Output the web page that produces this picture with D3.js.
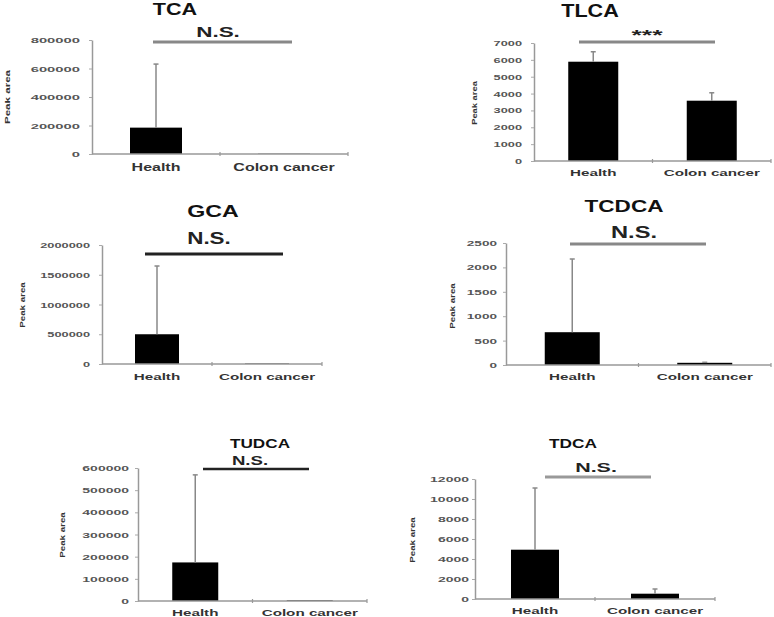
<!DOCTYPE html>
<html><head><meta charset="utf-8">
<script src="https://cdn.jsdelivr.net/npm/d3@7"></script>
<style>html,body{margin:0;padding:0;background:#fff}svg{display:block}</style>
</head><body>
<svg id="chart" width="774" height="617"></svg>
<script>
// ---- data ----
const titles = ["TCA", "TLCA", "GCA", "TCDCA", "TUDCA", "TDCA"];
const categories = ["Health", "Colon cancer"];
const healthMean = [185000, 5890, 500000, 672, 174000, 4930];
const healthErr = [446000, 590, 1147000, 1500, 395000, 6170];
const cancerMean = [2000, 3577, 8000, 45, 3000, 530];
const cancerErr = [0, 470, 0, 10, 0, 470];
const yMax = [800000, 7000, 2000000, 2500, 600000, 12000];
const yStep = [200000, 1000, 500000, 500, 100000, 2000];
const sigLabels = ["N.S.", "***", "N.S.", "N.S.", "N.S.", "N.S."];
const yLabel = "Peak area";

// ---- layout (positions / styles) ----
const layout = [
  {x0:92, x1:348, yB:154, yT:40, bw:52, gap:12, tickS:1.85,
   title:{x:175,y:10,size:16,s:1.35}, sig:{x0:153,x1:292,y:42,color:"#888",w:3},
   sigT:{x:218,y:32,size:15,s:1.5}, cat:{y:168,size:10,s:1.6}, yl:{x:7,y:97,size:8,s:1.45}},
  {x0:534, x1:771, yB:161, yT:43, bw:50, gap:12, tickS:1.6,
   title:{x:590,y:11,size:18,s:1.2}, sig:{x0:579,x1:715,y:42,color:"#888",w:3},
   sigT:{x:647,y:40,size:14,s:1.9,star:true}, cat:{y:173,size:9.5,s:1.6}, yl:{x:474,y:103,size:7.5,s:1.25}},
  {x0:102, x1:322, yB:364, yT:245, bw:44, gap:12, tickS:1.6,
   title:{x:213,y:211,size:16,s:1.45}, sig:{x0:145,x1:283,y:254,color:"#222",w:3},
   sigT:{x:209,y:238,size:16,s:1.4}, cat:{y:377,size:9.5,s:1.6}, yl:{x:22,y:305,size:7.5,s:1.3}},
  {x0:506, x1:771, yB:365, yT:243, bw:55, gap:9, tickS:1.7,
   title:{x:624,y:206,size:16,s:1.41}, sig:{x0:570,x1:706,y:244,color:"#888",w:3},
   sigT:{x:634,y:232,size:16,s:1.48}, cat:{y:377,size:9.5,s:1.6}, yl:{x:452,y:306,size:7.5,s:1.3}},
  {x0:138, x1:367, yB:601, yT:468, bw:46, gap:9, tickS:1.75,
   title:{x:260,y:443,size:13,s:1.32}, sig:{x0:203,x1:309,y:469,color:"#222",w:2.5},
   sigT:{x:250,y:461,size:12,s:1.55}, cat:{y:613,size:9.5,s:1.6}, yl:{x:62,y:535,size:7.5,s:1.3}},
  {x0:475, x1:715, yB:599, yT:479, bw:48, gap:6, tickS:1.75,
   title:{x:573,y:443,size:13,s:1.33}, sig:{x0:545,x1:651,y:477,color:"#999",w:3},
   sigT:{x:596,y:468,size:13,s:1.65}, cat:{y:611,size:9.5,s:1.6}, yl:{x:412,y:540,size:7.5,s:1.3}}
];

const svg = d3.select("#chart");
const FONT = "'Liberation Sans', Arial, sans-serif";

function addText(parent, x, y, str, opts) {
  const g = parent.append("g")
    .attr("transform", `translate(${x},${y})` + (opts.rotate ? ` rotate(${opts.rotate})` : "") + ` scale(${opts.s || 1},1)`);
  g.append("text")
    .attr("text-anchor", opts.anchor || "middle")
    .attr("dominant-baseline", opts.baseline || "central")
    .attr("font-family", FONT)
    .attr("font-size", opts.size)
    .attr("font-weight", opts.weight || "normal")
    .attr("fill", opts.fill || "#000")
    .text(str);
  return g;
}

titles.forEach((t, i) => {
  const L = layout[i];
  const g = svg.append("g");
  const x = d3.scaleBand().domain(categories).range([L.x0, L.x1]);
  const step = (L.x1 - L.x0) / 2;
  const pi = 1 - L.bw / step;
  x.paddingInner(pi).paddingOuter(pi / 2);
  const y = d3.scaleLinear().domain([0, yMax[i]]).range([L.yB, L.yT]);

  const means = [healthMean[i], cancerMean[i]];
  const errs = [healthErr[i], cancerErr[i]];

  // y axis
  const yAxis = d3.axisLeft(y)
    .tickValues(d3.range(0, yMax[i] + yStep[i] / 2, yStep[i]))
    .tickFormat(d3.format("d"))
    .tickSizeInner(3).tickSizeOuter(0);
  const ya = g.append("g").attr("transform", `translate(${L.x0},0)`).call(yAxis);
  ya.select(".domain").attr("stroke", "#999").attr("stroke-width", 1.5);
  ya.selectAll(".tick line").attr("stroke", "#aaa").attr("stroke-width", 1);
  ya.selectAll(".tick text")
    .attr("x", 0)
    .attr("transform", `translate(${-L.gap},0) scale(${L.tickS},1)`)
    .attr("font-family", FONT)
    .attr("font-size", 8)
    .attr("font-weight", "bold")
    .attr("fill", "#555");

  // bars
  g.selectAll("rect.bar").data(categories).join("rect")
    .attr("class", "bar")
    .attr("x", d => x(d))
    .attr("width", x.bandwidth())
    .attr("y", (d, j) => y(means[j]))
    .attr("height", (d, j) => y(0) - y(means[j]))
    .attr("fill", "#000");

  // error bars
  categories.forEach((c, j) => {
    if (errs[j] <= 0) return;
    const cx = x(c) + x.bandwidth() / 2;
    g.append("line").attr("x1", cx).attr("x2", cx)
      .attr("y1", y(means[j])).attr("y2", y(means[j] + errs[j]))
      .attr("stroke", "#888").attr("stroke-width", 1.5);
    g.append("line").attr("x1", cx - 2.5).attr("x2", cx + 2.5)
      .attr("y1", y(means[j] + errs[j])).attr("y2", y(means[j] + errs[j]))
      .attr("stroke", "#888").attr("stroke-width", 1.5);
  });

  // x axis
  g.append("line").attr("x1", L.x0).attr("x2", L.x1)
    .attr("y1", y(0)).attr("y2", y(0))
    .attr("stroke", "#999").attr("stroke-width", 1.5);
  [L.x0 + step, L.x1].forEach(tx => {
    g.append("line").attr("x1", tx).attr("x2", tx)
      .attr("y1", y(0) - 2).attr("y2", y(0) + 2)
      .attr("stroke", "#999").attr("stroke-width", 1.2);
  });

  // category labels
  categories.forEach(c => {
    addText(g, x(c) + x.bandwidth() / 2, L.cat.y, c,
      {size: L.cat.size, s: L.cat.s, fill: "#333", weight: "bold"});
  });

  // y label
  addText(g, L.yl.x, L.yl.y, yLabel,
    {size: L.yl.size, s: L.yl.s, rotate: -90, weight: "bold", fill: "#333"});
  // note: scale applied after rotate stretches along text direction

  // title
  addText(g, L.title.x, L.title.y, t, {size: L.title.size, s: L.title.s, weight: "bold", fill: "#111"});

  // significance line + label
  g.append("line").attr("x1", L.sig.x0).attr("x2", L.sig.x1)
    .attr("y1", L.sig.y).attr("y2", L.sig.y)
    .attr("stroke", L.sig.color).attr("stroke-width", L.sig.w);
  addText(g, L.sigT.x, L.sigT.y, sigLabels[i],
    {size: L.sigT.size, s: L.sigT.s, weight: "bold", fill: "#222",
     baseline: L.sigT.star ? "alphabetic" : "central"});
});
</script>
</body></html>
